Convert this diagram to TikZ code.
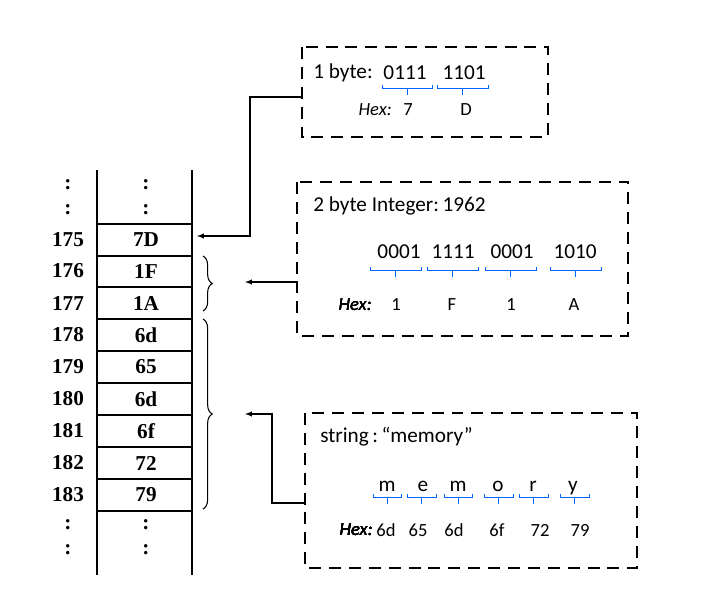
\documentclass[tikz,border=0pt]{standalone}
\usepackage{fontspec}
\setmainfont{Liberation Serif}
\newfontfamily\calib{Carlito}
\usetikzlibrary{decorations.pathreplacing}
\tikzset{
  rail/.style={line width=1.6pt},
  cellline/.style={line width=1.2pt},
  dashbox/.style={draw, line width=1.3pt, dash pattern=on 9pt off 6pt},
  hexbr/.style={draw=blue!60!cyan, line width=0.6pt},
  boxtext/.style={font=\calib\fontsize{16}{18}\selectfont, inner sep=0pt},
  hextext/.style={font=\calib\fontsize{14}{16}\selectfont, inner sep=0pt},
  memtext/.style={font=\bfseries\fontsize{16}{18}\selectfont, inner sep=0pt}
}
% small blue bracket under a group of bits
\newcommand{\hexbrace}[3]{\draw[hexbr] (#1,#3-3) -- (#1,#3) -- (#2,#3) -- (#2,#3-3)
  ({(#1+#2)/2},#3) -- ++(0,7);}
\begin{document}
\begin{tikzpicture}[x=0.0265cm, y=-0.0265cm]
  \useasboundingbox (0,0) rectangle (716,599);

  % memory column
  \draw[rail] (97,170) -- (97,575);
  \draw[rail] (192,170) -- (192,575);
  \foreach \y in {224,256,287,319,351,383,415,447,479,511}
    \draw[cellline] (97,\y) -- (192,\y);
  \foreach \y in {185,210,525,550} {
    \node[memtext] at (68,\y) {:};
    \node[memtext] at (146,\y) {:};
  }
  \foreach \a/\v/\y [count=\i] in {175/7D/240,176/1F/271,177/1A/303,178/6d/335,179/65/367,
                                   180/6d/399,181/6f/431,182/72/463,183/79/495} {
    \node[memtext] (addr\i) at (68,\y) {\a};
    \node[memtext] (cell\i) at (146,\y) {\v};
  }

  % braces
  \draw[line width=0.8pt, decorate, decoration={brace, amplitude=7pt}] (203,256) -- (203,311) coordinate[pos=0.5] (brA);
  \draw[line width=0.8pt, decorate, decoration={brace, amplitude=7pt}] (203,319) -- (203,509) coordinate[pos=0.5] (brB);

  % boxes
  \draw[dashbox] (302,47) rectangle (548,137);
  \draw[dashbox] (297,182) rectangle (628,336);
  \draw[dashbox] (305,413) rectangle (637,568);
  \coordinate (boxone) at (302,97);
  \coordinate (boxtwo) at (297,282);
  \coordinate (boxthree) at (305,503);

  % connectors
  \draw[-latex, line width=0.8pt] (boxone) -- (250,97) -- (250,236) -- (197,236);
  \draw[-latex, line width=0.8pt] (boxtwo) -- (245,282);
  \draw[-latex, line width=0.8pt] (boxthree) -- (272,503) -- (272,414) -- (245,414);

  % box 1
  \node[boxtext, anchor=west] (onebyte) at (313,73) {1 byte:};
  \node[boxtext] at (405,73) {0111};
  \node[boxtext] at (464,73) {1101};
  \hexbrace{382}{432}{88}
  \hexbrace{437}{488}{88}
  \node[hextext, anchor=east] at (392,110) {\itshape Hex:};
  \node[hextext] at (408,110) {7};
  \node[hextext] at (466,110) {D};

  % box 2
  \node[boxtext, anchor=west] (twobyte) at (313,206) {2 byte Integer:\,1962};
  \foreach \t/\x in {0001/399,1111/453,0001/512,1010/575}
    \node[boxtext] at (\x,252) {\t};
  \foreach \p/\q in {370/421,427/478,485/536,550/601}
    \hexbrace{\p}{\q}{270}
  \node[hextext, anchor=east] at (372,305) {\itshape Hex:};
  \foreach \t/\x in {1/396,F/452,1/511,A/574}
    \node[hextext] at (\x,305) {\t};

  % box 3
  \node[boxtext, anchor=west] (strmem) at (320,437) {string\,:\,“memory”};
  \foreach \t/\x in {m/387,e/423,m/458,o/498,r/533,y/573}
    \node[boxtext, anchor=base] at (\x,491) {\t};
  \foreach \p/\q in {373/401,407/436,444/472,484/513,519/548,560/589}
    \hexbrace{\p}{\q}{497}
  \node[hextext, anchor=east] at (373,530) {\itshape Hex:};
  \foreach \t/\x in {6d/386,65/418,6d/454,6f/497,72/540,79/580}
    \node[hextext] at (\x,530) {\t};
\end{tikzpicture}
\end{document}
